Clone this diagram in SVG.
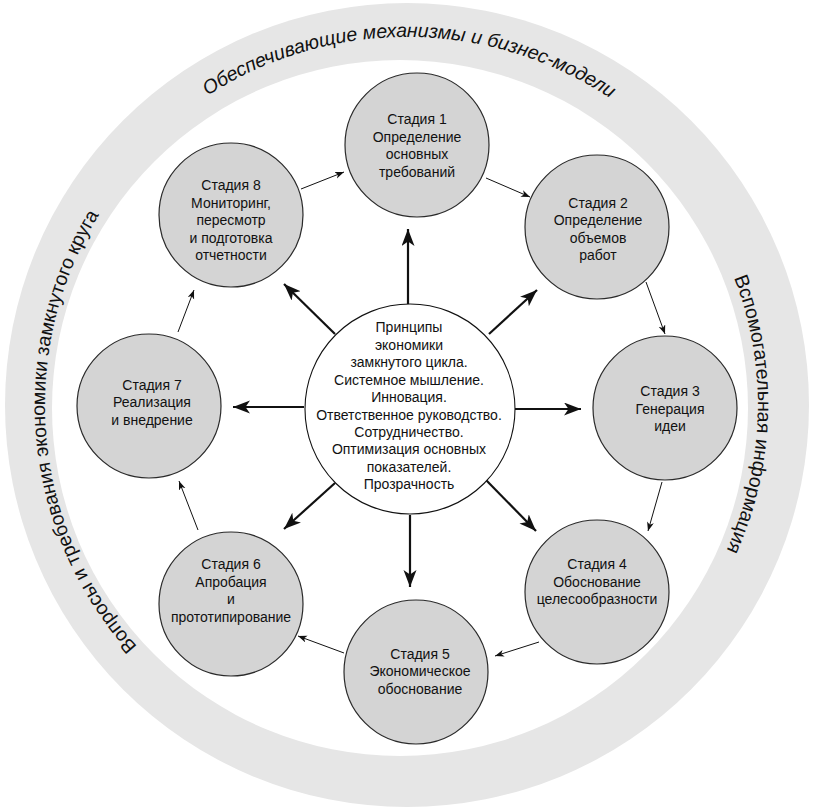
<svg xmlns="http://www.w3.org/2000/svg" xmlns:xlink="http://www.w3.org/1999/xlink" width="815" height="811" viewBox="0 0 815 811">
<style>
.node{fill:#d4d4d4;stroke:#2a2a2a;stroke-width:1.2}
.center{fill:#ffffff;stroke:#111;stroke-width:1.1}
.lbl{font-family:"Liberation Sans",Arial,sans-serif;font-size:14px;fill:#111;text-anchor:middle}
.ring{font-family:"Liberation Sans",Arial,sans-serif;font-size:19.5px;fill:#111}
.thin{stroke:#111;stroke-width:1;fill:none;marker-end:url(#ah)}
.thick{stroke:#111;stroke-width:2.2;fill:none;marker-end:url(#ahb)}
</style>
<defs>
<marker id="ah" markerUnits="userSpaceOnUse" markerWidth="10" markerHeight="8" refX="9" refY="3.5" orient="auto">
<path d="M0,0 L9,3.5 L0,7 L2.5,3.5 z" fill="#111"/>
</marker>
<marker id="ahb" markerUnits="userSpaceOnUse" markerWidth="18" markerHeight="14" refX="17" refY="6.5" orient="auto">
<path d="M0,0 L17,6.5 L0,13 L4.5,6.5 z" fill="#111"/>
</marker>
<path id="pTop" d="M39,405 A368,368 0 0 1 775,405"/>
<path id="pLeft" d="M407,767 A362,362 0 0 1 407,43"/>
<path id="pRight" d="M407,54 A351,351 0 0 1 407,756"/>
</defs>
<g id="ring">
<circle cx="407" cy="405" r="402" fill="#e6e6e6"/>
<circle cx="400" cy="408" r="348" fill="#ffffff"/>
<text class="ring" font-style="italic" font-size="21"><textPath xlink:href="#pTop" startOffset="50.2%" text-anchor="middle">Обеспечивающие механизмы и бизнес-модели</textPath></text>
<text class="ring"><textPath xlink:href="#pLeft" startOffset="47.2%" text-anchor="middle">Вопросы и требования экономики замкнутого круга</textPath></text>
<text class="ring"><textPath xlink:href="#pRight" startOffset="50.9%" text-anchor="middle">Вспомогательная информация</textPath></text>
</g>
<g id="connectors">
<line class="thin" x1="301" y1="189" x2="344" y2="172"/>
<line class="thin" x1="486" y1="178" x2="530" y2="197"/>
<line class="thin" x1="646" y1="282" x2="665" y2="334"/>
<line class="thin" x1="662" y1="482" x2="648" y2="531"/>
<line class="thin" x1="539" y1="642" x2="495" y2="656"/>
<line class="thin" x1="344" y1="653" x2="298" y2="636"/>
<line class="thin" x1="198" y1="530" x2="179" y2="481"/>
<line class="thin" x1="178" y1="332" x2="194" y2="290"/>
<line class="thick" x1="408" y1="304" x2="408" y2="229"/>
<line class="thick" x1="489" y1="334" x2="537" y2="290"/>
<line class="thick" x1="515" y1="409" x2="581" y2="409"/>
<line class="thick" x1="486" y1="480" x2="536" y2="531"/>
<line class="thick" x1="410" y1="515" x2="410" y2="587"/>
<line class="thick" x1="335" y1="483" x2="284" y2="529"/>
<line class="thick" x1="304" y1="407" x2="233" y2="407"/>
<line class="thick" x1="335" y1="334" x2="284" y2="284"/>
</g>
<g id="center">
<circle class="center" cx="410" cy="409" r="105"/>
<text class="lbl" x="409"><tspan x="409" y="332">Принципы</tspan><tspan x="409" y="350">экономики</tspan><tspan x="409" y="367">замкнутого цикла.</tspan><tspan x="409" y="385">Системное мышление.</tspan><tspan x="409" y="402">Инновация.</tspan><tspan x="409" y="420">Ответственное руководство.</tspan><tspan x="409" y="437">Сотрудничество.</tspan><tspan x="409" y="454">Оптимизация основных</tspan><tspan x="409" y="472">показателей.</tspan><tspan x="409" y="489">Прозрачность</tspan></text>
</g>
<g id="stage1">
<circle class="node" cx="417" cy="145" r="72"/>
<text class="lbl"><tspan x="417" y="124">Стадия 1</tspan><tspan x="417" y="142">Определение</tspan><tspan x="417" y="159">основных</tspan><tspan x="417" y="177">требований</tspan></text>
</g>
<g id="stage2">
<circle class="node" cx="597" cy="227" r="72"/>
<text class="lbl"><tspan x="598" y="208">Стадия 2</tspan><tspan x="598" y="225">Определение</tspan><tspan x="598" y="243">объемов</tspan><tspan x="598" y="260">работ</tspan></text>
</g>
<g id="stage3">
<circle class="node" cx="665" cy="408" r="72"/>
<text class="lbl"><tspan x="670" y="396">Стадия 3</tspan><tspan x="670" y="414">Генерация</tspan><tspan x="670" y="431">идеи</tspan></text>
</g>
<g id="stage4">
<circle class="node" cx="597" cy="592" r="72"/>
<text class="lbl"><tspan x="597" y="569">Стадия 4</tspan><tspan x="597" y="587">Обоснование</tspan><tspan x="597" y="604">целесообразности</tspan></text>
</g>
<g id="stage5">
<circle class="node" cx="416" cy="672" r="72"/>
<text class="lbl"><tspan x="420" y="659">Стадия 5</tspan><tspan x="420" y="676">Экономическое</tspan><tspan x="420" y="694">обоснование</tspan></text>
</g>
<g id="stage6">
<circle class="node" cx="231" cy="604" r="72"/>
<text class="lbl"><tspan x="231" y="569">Стадия 6</tspan><tspan x="231" y="587">Апробация</tspan><tspan x="231" y="604">и</tspan><tspan x="231" y="622">прототипирование</tspan></text>
</g>
<g id="stage7">
<circle class="node" cx="149" cy="406" r="72"/>
<text class="lbl"><tspan x="152" y="390">Стадия 7</tspan><tspan x="152" y="407">Реализация</tspan><tspan x="152" y="425">и внедрение</tspan></text>
</g>
<g id="stage8">
<circle class="node" cx="231" cy="215" r="72"/>
<text class="lbl"><tspan x="231" y="190">Стадия 8</tspan><tspan x="231" y="208">Мониторинг,</tspan><tspan x="231" y="225">пересмотр</tspan><tspan x="231" y="243">и подготовка</tspan><tspan x="231" y="260">отчетности</tspan></text>
</g>
</svg>
